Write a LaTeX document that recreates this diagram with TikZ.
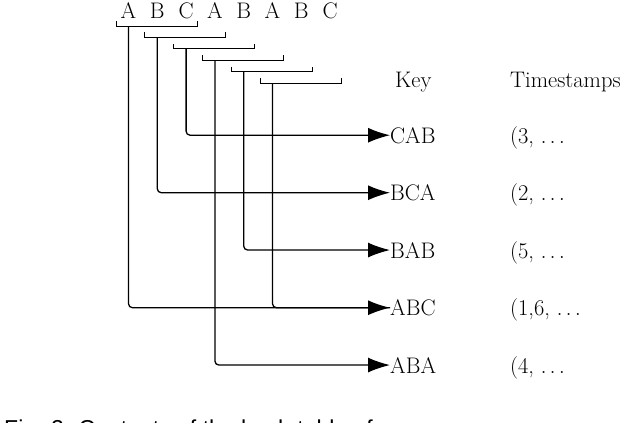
\documentclass[tikz,border=0pt]{standalone}
\usepackage{fontspec}
\newfontfamily\capfont{Liberation Sans}
\usetikzlibrary{arrows.meta}
\begin{document}
\begin{tikzpicture}[x=1pt,y=-1pt,
  txt/.style={font=\fontsize{22.5}{27}\selectfont, inner sep=0pt},
  conn/.style={line width=1.3pt, rounded corners=4pt},
  tipped/.style={-{Latex[length=22pt,width=15pt]}},
  brk/.style={line width=1pt}]
\useasboundingbox (0,0) rectangle (638,423);
\clip (0,0) rectangle (638,423);
% sequence letters
\foreach \l [count=\i] in {A,B,C,A,B,A,B,C}{
  \node[txt, anchor=base] (l\i) at ({128.5+28.8*(\i-1)},18) {\l};
}
% brackets
\foreach \i in {1,...,6}{
  \pgfmathsetmacro{\xl}{116+28.8*(\i-1)}
  \pgfmathsetmacro{\xr}{\xl+81}
  \pgfmathsetmacro{\yy}{26+11.4*(\i-1)}
  \draw[brk] (\xl,\yy-5) -- (\xl,\yy) -- (\xr,\yy) -- (\xr,\yy-5);
  \coordinate (b\i) at ({128.5+28.8*(\i-1)},\yy);
}
% headers
\node[txt, anchor=base west] (key) at (395,87) {Key};
\node[txt, anchor=base west] (ts) at (510,87) {Timestamps};
% keys
\node[txt, anchor=base west] (cab) at (390,143) {CAB};
\node[txt, anchor=base west] (bca) at (390,200.5) {BCA};
\node[txt, anchor=base west] (bab) at (390,258) {BAB};
\node[txt, anchor=base west] (abc) at (390,315.5) {ABC};
\node[txt, anchor=base west] (aba) at (390,373) {ABA};
% timestamps
\node[txt, anchor=base west] (tcab) at (510,143) {(3, $\ldots$};
\node[txt, anchor=base west] (tbca) at (510,200.5) {(2, $\ldots$};
\node[txt, anchor=base west] (tbab) at (510,258) {(5, $\ldots$};
\node[txt, anchor=base west] (tabc) at (510,315.5) {(1,6, $\ldots$};
\node[txt, anchor=base west] (taba) at (510,373) {(4, $\ldots$};
% connectors
\draw[conn,tipped] (b3) |- (cab.west);
\draw[conn,tipped] (b2) |- (bca.west);
\draw[conn,tipped] (b5) |- (bab.west);
\draw[conn,tipped] (b1) |- (abc.west);
\draw[conn] (b6) |- (abc.west);
\draw[conn,tipped] (b4) |- (aba.west);
% caption (cut off at bottom edge, as in the reference)
\node[anchor=north west, inner sep=0pt, font=\capfont\fontsize{23}{27}\selectfont] (cap) at (4,419.5) {Fig. 2. Contents of the hash table of};
\end{tikzpicture}
\end{document}
